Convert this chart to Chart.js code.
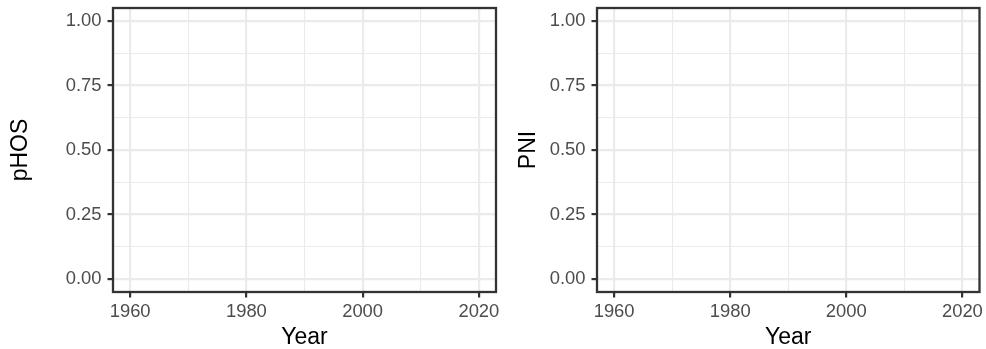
<!DOCTYPE html>
<html>
<head>
<meta charset="utf-8">
<script src="https://cdn.jsdelivr.net/npm/chart.js@4/dist/chart.umd.min.js"></script>
<style>
  html, body { margin: 0; padding: 0; background: #ffffff; }
  #wrap { position: relative; width: 986px; height: 349px; overflow: hidden; }
  canvas { position: absolute; top: 0; }
</style>
</head>
<body>
<div id="wrap">
  <canvas id="c1" width="506" height="349" style="left:0px"></canvas>
  <canvas id="c2" width="496" height="349" style="left:490px"></canvas>
</div>
<script>
// ---- data (both panels are empty in the reference) ----
const years = [];
const phosValues = [];
const pniValues = [];

// ---- tick values / labels ----
const xMajorTicks = [1960, 1980, 2000, 2020];
const xMinorTicks = [1970, 1990, 2010];
const yMajorTicks = [0, 0.25, 0.5, 0.75, 1];
const yMinorTicks = [0.125, 0.375, 0.625, 0.875];
const xRange = [1957.05, 2022.95];
const yRange = [-0.05, 1.05];

const FONT = '"Liberation Sans", Arial, Helvetica, sans-serif';
const GRID = '#EBEBEB';
const DARK = '#333333';

const borderPlugin = {
  id: 'panelBorder',
  afterDraw(chart) {
    const a = chart.chartArea;
    const ctx = chart.ctx;
    ctx.save();
    ctx.strokeStyle = DARK;
    ctx.lineWidth = 2.3;
    ctx.strokeRect(a.left, a.top, a.right - a.left, a.bottom - a.top);
    ctx.restore();
  }
};

function makeChart(id, yTitle, values, yAxisWidth, titlePad, rightPad) {
  const pts = years.map((y, i) => ({ x: y, y: values[i] }));
  return new Chart(document.getElementById(id), {
    type: 'scatter',
    data: { datasets: [{ data: pts, pointRadius: 2, backgroundColor: '#000' }] },
    plugins: [borderPlugin],
    options: {
      responsive: false,
      devicePixelRatio: 1,
      animation: false,
      events: [],
      layout: { padding: { left: 0, right: rightPad, top: 8, bottom: 0 } },
      plugins: { legend: { display: false }, tooltip: { enabled: false } },
      scales: {
        x: {
          type: 'linear',
          min: xRange[0], max: xRange[1],
          afterBuildTicks: s => {
            s.ticks = xMajorTicks.concat(xMinorTicks).sort((a, b) => a - b).map(v => ({ value: v }));
          },
          afterFit: s => { s.height = 57; s.paddingLeft = 0; s.paddingRight = 0; },
          border: { display: false },
          grid: {
            color: c => GRID,
            lineWidth: c => (c.tick && xMajorTicks.includes(c.tick.value)) ? 2.2 : 1.1,
            tickColor: c => (c.tick && xMajorTicks.includes(c.tick.value)) ? DARK : 'rgba(0,0,0,0)',
            tickLength: 5.5,
            tickWidth: 2.2,
            drawTicks: true
          },
          ticks: {
            autoSkip: false,
            maxRotation: 0,
            padding: 3.5,
            color: '#4D4D4D',
            font: { family: FONT, size: 18.4 },
            callback: v => xMajorTicks.includes(v) ? String(v) : ''
          },
          title: {
            display: true, text: 'Year', color: '#000000',
            font: { family: FONT, size: 23, lineHeight: 1.0 },
            padding: { top: 0, bottom: 0 }
          }
        },
        y: {
          type: 'linear',
          min: yRange[0], max: yRange[1],
          afterBuildTicks: s => {
            s.ticks = yMajorTicks.concat(yMinorTicks).sort((a, b) => a - b).map(v => ({ value: v }));
          },
          afterFit: s => { s.width = yAxisWidth; s.paddingTop = 0; s.paddingBottom = 0; },
          border: { display: false },
          grid: {
            color: c => GRID,
            lineWidth: c => (c.tick && yMajorTicks.includes(c.tick.value)) ? 2.2 : 1.1,
            tickColor: c => (c.tick && yMajorTicks.includes(c.tick.value)) ? DARK : 'rgba(0,0,0,0)',
            tickLength: 5.5,
            tickWidth: 2.2,
            drawTicks: true
          },
          ticks: {
            autoSkip: false,
            padding: 6,
            color: '#4D4D4D',
            font: { family: FONT, size: 18.4 },
            callback: v => yMajorTicks.includes(v) ? v.toFixed(2) : ''
          },
          title: {
            display: true, text: yTitle, color: '#000000',
            font: { family: FONT, size: 23, lineHeight: 1.0 },
            padding: { top: titlePad, bottom: 0 }
          }
        }
      }
    }
  });
}

makeChart('c1', 'pHOS', phosValues, 113, 9.5, 10);
makeChart('c2', 'PNI', pniValues, 107, 27, 6.5);
</script>
</body>
</html>
